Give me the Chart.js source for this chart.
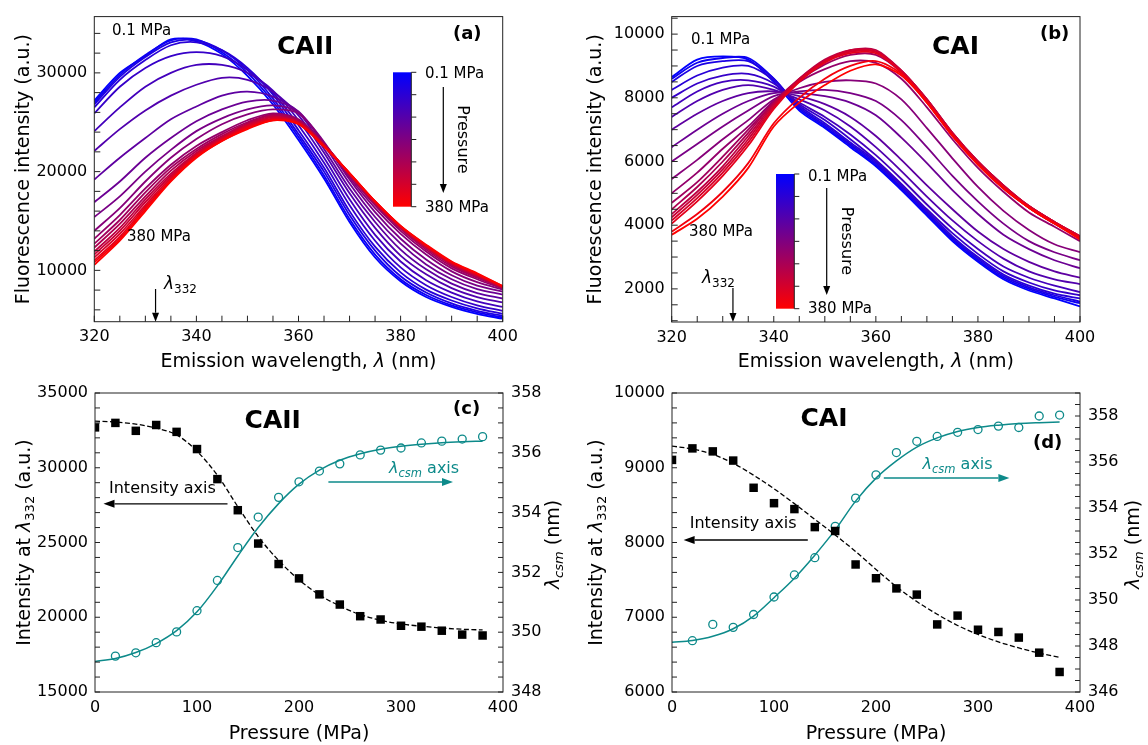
<!DOCTYPE html>
<html lang="en">
<head>
  <meta charset="UTF-8">
  <title>CAII / CAI fluorescence under pressure</title>
  <script src="https://cdn.jsdelivr.net/npm/chart.js"></script>
  <style>
    body { margin: 0; background: #fff; width: 1148px; height: 745px; overflow: hidden; position: relative; }
    canvas { position: absolute; }
  </style>
</head>
<body>
  <canvas id="cA" width="574" height="372" style="left:0;top:0"></canvas>
  <canvas id="cB" width="574" height="372" style="left:574px;top:0"></canvas>
  <canvas id="cC" width="574" height="373" style="left:0;top:372px"></canvas>
  <canvas id="cD" width="574" height="373" style="left:574px;top:372px"></canvas>

<script>
// ---- data ----
const wavelengths = [320, 325, 330, 335, 340, 345, 350, 355, 360, 365, 370, 375, 380, 385, 390, 395, 400];
const pressureLevels = [0.1, 20, 40, 60, 80, 100, 120, 140, 160, 180, 200, 220, 240, 260, 280, 300, 320, 340, 360, 380];

// CAII spectra, one row per pressure level
const caiiSpectra = [
  [27200, 30000, 31700, 33400, 33200, 31900, 29700, 26800, 23200, 19300, 14900, 11300, 8900, 7300, 6300, 5600, 5100],
  [27000, 29800, 31800, 33300, 33400, 32100, 30000, 27100, 23500, 19600, 15200, 11600, 9100, 7500, 6450, 5750, 5250],
  [26800, 29600, 31600, 33100, 33300, 32300, 30300, 27400, 23800, 20000, 15600, 12000, 9400, 7750, 6650, 5900, 5400],
  [26500, 29300, 31300, 32800, 33100, 32300, 30500, 27800, 24200, 20400, 16000, 12400, 9800, 8050, 6950, 6150, 5600],
  [25900, 28600, 30500, 31700, 32100, 31700, 30300, 28000, 24700, 20900, 16600, 13000, 10300, 8500, 7300, 6450, 5900],
  [24100, 26500, 28600, 30000, 30800, 30800, 30000, 28200, 25200, 21400, 17200, 13600, 10900, 9000, 7750, 6850, 6300],
  [22100, 24300, 26200, 27700, 28800, 29500, 29300, 28100, 25700, 21900, 17800, 14300, 11500, 9600, 8200, 7300, 6750],
  [19200, 21400, 23400, 25300, 26600, 27700, 28100, 27600, 26000, 22300, 18300, 14900, 12100, 10100, 8650, 7700, 7150],
  [16900, 19000, 21400, 23400, 25100, 26300, 27100, 27200, 26100, 22700, 18800, 15400, 12700, 10600, 9100, 8100, 7550],
  [15400, 17500, 20000, 22200, 24100, 25400, 26300, 26700, 26000, 23000, 19200, 15900, 13200, 11100, 9500, 8450, 7850],
  [14000, 16300, 19000, 21400, 23300, 24800, 25800, 26300, 25900, 22900, 19400, 16300, 13700, 11600, 9900, 8800, 8050],
  [13200, 15600, 18300, 20700, 22600, 24000, 25200, 25900, 25300, 22800, 19600, 16600, 14000, 11900, 10200, 9100, 8150],
  [12700, 15100, 17900, 20400, 22300, 23800, 25000, 25800, 25200, 22800, 19700, 16700, 14200, 12100, 10400, 9250, 8200],
  [12300, 14700, 17500, 20100, 22100, 23600, 24900, 25700, 25100, 22700, 19700, 16800, 14300, 12250, 10550, 9350, 8250],
  [11900, 14300, 17200, 19800, 21900, 23500, 24800, 25600, 25000, 22700, 19800, 16900, 14350, 12350, 10650, 9450, 8300],
  [11600, 14000, 16900, 19600, 21800, 23400, 24700, 25500, 25000, 22700, 19800, 16900, 14400, 12400, 10700, 9500, 8300],
  [11300, 13700, 16600, 19400, 21700, 23300, 24600, 25400, 24950, 22600, 19800, 16950, 14450, 12450, 10750, 9550, 8350],
  [11000, 13400, 16400, 19200, 21600, 23200, 24500, 25300, 24900, 22600, 19800, 16950, 14450, 12500, 10800, 9600, 8350],
  [10800, 13200, 16200, 19100, 21500, 23100, 24400, 25200, 24850, 22600, 19850, 17000, 14500, 12550, 10850, 9650, 8400],
  [10550, 13000, 16000, 19000, 21400, 23100, 24300, 25200, 24800, 22500, 19850, 17000, 14500, 12600, 10900, 9700, 8400]
];

// CAI spectra, one row per pressure level
const caiSpectra = [
  [8650, 9200, 9300, 9200, 8500, 7600, 7050, 6450, 5850, 5100, 4300, 3500, 2850, 2300, 1950, 1700, 1450],
  [8600, 9100, 9250, 9250, 8600, 7650, 7100, 6500, 5900, 5150, 4350, 3550, 2900, 2350, 2000, 1750, 1550],
  [8500, 9000, 9150, 9150, 8600, 7700, 7150, 6550, 5950, 5200, 4400, 3600, 2950, 2400, 2050, 1800, 1600],
  [8250, 8700, 8950, 9000, 8550, 7750, 7200, 6600, 6000, 5250, 4450, 3650, 3000, 2450, 2100, 1850, 1700],
  [8000, 8450, 8700, 8750, 8450, 7800, 7300, 6700, 6050, 5300, 4500, 3750, 3100, 2550, 2200, 1950, 1800],
  [7700, 8200, 8500, 8550, 8350, 7850, 7400, 6850, 6200, 5450, 4650, 3900, 3250, 2700, 2350, 2100, 1900],
  [7400, 7900, 8250, 8400, 8250, 7950, 7600, 7100, 6450, 5700, 4900, 4150, 3500, 2950, 2550, 2300, 2150],
  [7000, 7500, 7900, 8150, 8200, 8050, 7800, 7400, 6800, 6050, 5250, 4500, 3800, 3250, 2850, 2550, 2350],
  [6450, 7000, 7500, 7900, 8150, 8150, 8050, 7850, 7450, 6750, 5950, 5100, 4350, 3700, 3250, 2900, 2650],
  [6000, 6550, 7100, 7600, 8050, 8200, 8250, 8150, 7900, 7300, 6450, 5550, 4750, 4050, 3500, 3150, 2900],
  [5450, 6050, 6700, 7300, 7950, 8300, 8500, 8550, 8450, 7950, 7050, 6100, 5200, 4450, 3850, 3400, 3150],
  [5000, 5650, 6400, 7100, 7900, 8500, 8900, 9150, 9100, 8600, 7700, 6700, 5800, 5050, 4400, 3950, 3500],
  [4700, 5350, 6150, 7000, 7850, 8550, 9050, 9350, 9350, 8800, 7900, 6850, 5950, 5200, 4550, 4050, 3600],
  [4500, 5200, 6000, 6900, 7850, 8600, 9150, 9450, 9450, 8850, 7950, 6900, 6000, 5250, 4600, 4100, 3650],
  [4350, 5050, 5850, 6800, 7800, 8600, 9200, 9500, 9500, 8850, 7950, 6900, 6000, 5250, 4600, 4100, 3650],
  [4250, 4950, 5750, 6700, 7750, 8550, 9150, 9500, 9450, 8850, 7950, 6900, 6000, 5250, 4600, 4100, 3650],
  [4150, 4850, 5650, 6600, 7700, 8550, 9150, 9450, 9450, 8800, 7900, 6850, 5950, 5200, 4600, 4100, 3650],
  [4050, 4750, 5550, 6500, 7650, 8500, 9100, 9400, 9400, 8800, 7900, 6850, 5950, 5200, 4550, 4050, 3600],
  [3800, 4350, 5050, 5950, 7200, 8000, 8600, 9000, 9150, 8750, 7850, 6800, 5900, 5150, 4550, 4050, 3600],
  [3700, 4200, 4900, 5800, 7100, 7850, 8400, 8850, 9050, 8700, 7850, 6800, 5900, 5150, 4550, 4050, 3550]
];

const pressure = [0, 20, 40, 60, 80, 100, 120, 140, 160, 180, 200, 220, 240, 260, 280, 300, 320, 340, 360, 380];
const csmPressure = [20, 40, 60, 80, 100, 120, 140, 160, 180, 200, 220, 240, 260, 280, 300, 320, 340, 360, 380];

const caiiI332 = [32700, 33000, 32470, 32860, 32400, 31250, 29240, 27160, 24930, 23560, 22600, 21530, 20850, 20070, 19850, 19430, 19370, 19100, 18840, 18780];
const caiiI332Fit = [33120, 33060, 32920, 32650, 32200, 31100, 29500, 27400, 25400, 23800, 22500, 21500, 20750, 20180, 19800, 19550, 19400, 19280, 19200, 19150];
const caiiCsm = [349.20, 349.31, 349.65, 350.01, 350.72, 351.73, 352.83, 353.85, 354.51, 355.03, 355.39, 355.63, 355.93, 356.09, 356.16, 356.33, 356.39, 356.46, 356.54];
const caiiCsmFit = [349.02, 349.12, 349.32, 349.62, 350.05, 350.68, 351.55, 352.55, 353.50, 354.30, 354.95, 355.42, 355.75, 355.97, 356.12, 356.22, 356.29, 356.34, 356.37, 356.39];

const caiI332 = [9105, 9259, 9219, 9096, 8732, 8526, 8447, 8206, 8154, 7706, 7522, 7386, 7303, 6904, 7022, 6833, 6803, 6728, 6526, 6268];
const caiI332Fit = [9290, 9250, 9180, 9060, 8900, 8720, 8520, 8310, 8100, 7880, 7640, 7410, 7210, 7040, 6890, 6770, 6670, 6590, 6520, 6465];
const caiCsm = [348.23, 348.94, 348.81, 349.37, 350.13, 351.09, 351.84, 353.20, 354.43, 355.44, 356.41, 356.90, 357.11, 357.29, 357.41, 357.56, 357.50, 358.00, 358.04];
const caiCsmFit = [348.16, 348.24, 348.42, 348.75, 349.30, 350.10, 350.95, 351.95, 353.05, 354.30, 355.30, 356.05, 356.65, 357.05, 357.33, 357.50, 357.60, 357.67, 357.71, 357.74];

// tick labels
const wlTicks = [320, 340, 360, 380, 400];
const caiiSpecTicks = [10000, 20000, 30000];
const caiSpecTicks = [2000, 4000, 6000, 8000, 10000];
const pTicks = [0, 100, 200, 300, 400];
const caiiITicks = [15000, 20000, 25000, 30000, 35000];
const caiITicks = [6000, 7000, 8000, 9000, 10000];
const caiiCsmTicks = [348, 350, 352, 354, 356, 358];
const caiCsmTicks = [346, 348, 350, 352, 354, 356, 358];

// ---- helpers ----
const FAM = '"DejaVu Sans"';
Chart.defaults.font.family = 'DejaVu Sans';
const TEAL = '#0d8a8a';
const f = (size, style = '') => (style + ' ' + size + 'px ' + FAM).trim();

const pairs = (xs, ys) => ys.map((y, i) => ({ x: xs[i], y }));
const pColor = t => 'rgb(' + Math.round(255 * t) + ',0,' + Math.round(255 * (1 - t)) + ')';

function axis(pos, min, max, ticks, size, pad) {
  return {
    type: 'linear', position: pos, min, max,
    grid: { display: false, drawTicks: false },
    border: { display: false },
    ticks: { color: '#000', font: { size: 16 }, padding: pad, maxRotation: 0, autoSkip: false, callback: v => String(v) },
    afterBuildTicks: s => { s.ticks = ticks.map(v => ({ value: v })); },
    afterFit: s => { if (s.isHorizontal()) s.height = size; else s.width = size; }
  };
}

function baseOptions(pad, scales) {
  return {
    responsive: false, animation: false, events: [],
    layout: { padding: pad },
    plugins: { legend: { display: false }, tooltip: { enabled: false } },
    scales
  };
}

// text made of runs: [text, font, dy]
function txt(ctx, x, y, runs, o = {}) {
  ctx.save();
  ctx.translate(x, y);
  if (o.rot) ctx.rotate(o.rot);
  ctx.textBaseline = o.baseline || 'alphabetic';
  let w = 0;
  for (const r of runs) { ctx.font = r[1]; w += ctx.measureText(r[0]).width; }
  let cx = o.align === 'center' ? -w / 2 : 0;
  ctx.fillStyle = o.color || '#000';
  for (const r of runs) {
    ctx.font = r[1];
    ctx.fillText(r[0], cx, r[2] || 0);
    cx += ctx.measureText(r[0]).width;
  }
  ctx.restore();
}

function arrow(ctx, x1, y1, x2, y2, color, head = 9, hw = 3.5, lw = 1.3) {
  const a = Math.atan2(y2 - y1, x2 - x1), c = Math.cos(a), s = Math.sin(a);
  const bx = x2 - head * c, by = y2 - head * s;
  ctx.strokeStyle = color; ctx.fillStyle = color; ctx.lineWidth = lw;
  ctx.beginPath(); ctx.moveTo(x1, y1); ctx.lineTo(bx, by); ctx.stroke();
  ctx.beginPath(); ctx.moveTo(x2, y2);
  ctx.lineTo(bx + hw * s, by - hw * c);
  ctx.lineTo(bx - hw * s, by + hw * c);
  ctx.closePath(); ctx.fill();
}

function frame(chart) {
  const { ctx, chartArea: a } = chart;
  ctx.strokeStyle = '#222'; ctx.lineWidth = 1;
  ctx.strokeRect(a.left, a.top, a.right - a.left, a.bottom - a.top);
}

// inward tick marks
function inTicks(chart, id, from, to, step, len = 6) {
  const s = chart.scales[id], a = chart.chartArea, ctx = chart.ctx;
  ctx.beginPath();
  for (let k = 0; from + k * step <= to + 1e-9; k++) {
    const p = s.getPixelForValue(from + k * step);
    if (s.isHorizontal()) { ctx.moveTo(p, a.bottom); ctx.lineTo(p, a.bottom - len); }
    else if (s.position === 'left') { ctx.moveTo(a.left, p); ctx.lineTo(a.left + len, p); }
    else { ctx.moveTo(a.right, p); ctx.lineTo(a.right - len, p); }
  }
  ctx.strokeStyle = '#222'; ctx.lineWidth = 1; ctx.stroke();
}

function colorbar(ctx, x, y, w, h) {
  const g = ctx.createLinearGradient(0, y, 0, y + h);
  g.addColorStop(0, 'rgb(0,0,255)'); g.addColorStop(1, 'rgb(255,0,0)');
  ctx.fillStyle = g; ctx.fillRect(x, y, w, h);
  ctx.strokeStyle = '#222'; ctx.lineWidth = 1;
  ctx.beginPath(); ctx.moveTo(x + w, y); ctx.lineTo(x + w, y + h);
  for (let k = 0; k <= 6; k++) { const yy = y + h * k / 6; ctx.moveTo(x + w, yy); ctx.lineTo(x + w + 5, yy); }
  ctx.stroke();
}

const decor = draw => ({ id: 'decor', afterDraw(chart) { const ctx = chart.ctx; ctx.save(); draw(chart, ctx); ctx.restore(); } });

const lam332 = (ctx, x, y) => txt(ctx, x, y, [['λ', f(17, 'italic')], ['332', f(12), 4]]);
const wlTitle = [['Emission wavelength, ', f(19)], ['λ', f(19, 'italic')], [' (nm)', f(19)]];
const fluoTitle = [['Fluorescence intensity (a.u.)', f(19)]];
const intTitle = [['Intensity at ', f(19)], ['λ', f(19, 'italic')], ['332', f(13), 4], [' (a.u.)', f(19)]];
const csmTitle = [['λ', f(19, 'italic')], ['csm', f(13, 'italic'), 4], [' (nm)', f(19)]];
const csmAxis = [['λ', f(16, 'italic')], ['csm', f(11.5, 'italic'), 3.5], [' axis', f(16)]];

function spectra(id, rows, yMin, yMax, yTicks, g, minor, extra) {
  return new Chart(document.getElementById(id), {
    type: 'line',
    data: {
      datasets: rows.map((row, i) => ({
        data: pairs(wavelengths, row),
        borderColor: pColor(i / (rows.length - 1)),
        borderWidth: 1.8, pointRadius: 0, tension: 0.3, order: rows.length - i
      }))
    },
    options: baseOptions({ top: g.top, right: g.right, left: 0, bottom: 0 }, {
      x: axis('bottom', 320, 400, wlTicks, g.xh, 6),
      y: axis('left', yMin, yMax, yTicks, g.yw, 7)
    }),
    plugins: [decor((c, ctx) => {
      frame(c);
      inTicks(c, 'x', 320, 400, 5);
      inTicks(c, 'y', minor[0], minor[1], minor[2]);
      const a = c.chartArea;
      txt(ctx, (a.left + a.right) / 2, 367, wlTitle, { align: 'center' });
      txt(ctx, g.titleX, (a.top + a.bottom) / 2, fluoTitle, { align: 'center', rot: -Math.PI / 2 });
      extra(c, ctx, a);
    })]
  });
}

function pressureChart(id, iVals, iFit, cVals, cFit, iRange, cRange, iTicks, cTicks, g, minorI, extra) {
  return new Chart(document.getElementById(id), {
    type: 'line',
    data: {
      datasets: [
        { data: pairs(pressure, iVals), yAxisID: 'y', showLine: false, pointStyle: 'rect', pointRadius: 6,
          pointBackgroundColor: '#000', pointBorderWidth: 0, order: 1 },
        { data: pairs(csmPressure, cVals), yAxisID: 'y2', showLine: false, pointStyle: 'circle', pointRadius: 4,
          pointBorderColor: TEAL, pointBackgroundColor: 'rgba(0,0,0,0)', pointBorderWidth: 1.3, order: 2 },
        { data: pairs(pressure, iFit), yAxisID: 'y', borderColor: '#000', borderWidth: 1.3, borderDash: [5, 2.5],
          pointRadius: 0, cubicInterpolationMode: 'monotone', order: 3 },
        { data: pairs(pressure, cFit), yAxisID: 'y2', borderColor: TEAL, borderWidth: 1.5,
          pointRadius: 0, cubicInterpolationMode: 'monotone', order: 4 }
      ]
    },
    options: baseOptions({ top: 21, right: 0, left: 0, bottom: 0 }, {
      x: axis('bottom', 0, 400, pTicks, 53, 6),
      y: axis('left', iRange[0], iRange[1], iTicks, g.yw, 7),
      y2: axis('right', cRange[0], cRange[1], cTicks, g.y2w, 8)
    }),
    plugins: [decor((c, ctx) => {
      frame(c);
      inTicks(c, 'y', minorI[0], minorI[1], minorI[2], 5);
      inTicks(c, 'y2', cRange[0], cRange[1], 0.5, 5);
      const a = c.chartArea, cy = (a.top + a.bottom) / 2;
      txt(ctx, (a.left + a.right) / 2, 367, [['Pressure (MPa)', f(19)]], { align: 'center' });
      txt(ctx, g.titleX, cy, intTitle, { align: 'center', rot: -Math.PI / 2 });
      txt(ctx, a.right + g.rTitle, cy + 2, csmTitle, { align: 'center', rot: -Math.PI / 2 });
      extra(c, ctx, a);
    })]
  });
}

// (a) CAII spectra
spectra('cA', caiiSpectra, 4800, 35700, caiiSpecTicks,
  { top: 15.7, right: 71.3, xh: 50.3, yw: 94.3, titleX: 29 }, [6000, 34000, 2000],
  (c, ctx, a) => {
    txt(ctx, 112, 35, [['0.1 MPa', f(15)]]);
    txt(ctx, 127, 241, [['380 MPa', f(15)]]);
    txt(ctx, 277, 54, [['CAII', f(25, 'bold')]]);
    txt(ctx, 453, 39, [['(a)', f(18, 'bold')]]);
    const x332 = c.scales.x.getPixelForValue(332);
    arrow(ctx, x332, 289, x332, a.bottom, '#000', 9, 3.5, 1.2);
    lam332(ctx, 164, 289);
    colorbar(ctx, 393, 72.3, 18.3, 134.4);
    txt(ctx, 425, 78, [['0.1 MPa', f(15)]]);
    txt(ctx, 425, 212, [['380 MPa', f(15)]]);
    arrow(ctx, 443.3, 87, 443.3, 193, '#000', 9, 3.5, 1.2);
    txt(ctx, 462, 139.5, [['Pressure', f(16)]], { align: 'center', rot: Math.PI / 2, baseline: 'middle' });
  });

// (b) CAI spectra
spectra('cB', caiSpectra, 960, 10550, caiSpecTicks,
  { top: 15.7, right: 68, xh: 50, yw: 97.7, titleX: 27 }, [1000, 10500, 500],
  (c, ctx, a) => {
    txt(ctx, 117, 44, [['0.1 MPa', f(15)]]);
    txt(ctx, 115, 236, [['380 MPa', f(15)]]);
    txt(ctx, 358, 54, [['CAI', f(25, 'bold')]]);
    txt(ctx, 466, 39, [['(b)', f(18, 'bold')]]);
    const x332 = c.scales.x.getPixelForValue(332);
    arrow(ctx, x332, 288, x332, a.bottom, '#000', 9, 3.5, 1.2);
    lam332(ctx, 128, 283);
    colorbar(ctx, 202, 174, 18.3, 134.7);
    txt(ctx, 234, 181, [['0.1 MPa', f(15)]]);
    txt(ctx, 234, 313, [['380 MPa', f(15)]]);
    arrow(ctx, 252.7, 188, 252.7, 295, '#000', 9, 3.5, 1.2);
    txt(ctx, 272.5, 241, [['Pressure', f(16)]], { align: 'center', rot: Math.PI / 2, baseline: 'middle' });
  });

// (c) CAII vs pressure
pressureChart('cC', caiiI332, caiiI332Fit, caiiCsm, caiiCsmFit, [15000, 35000], [348, 358],
  caiiITicks, caiiCsmTicks, { yw: 95, y2w: 71, titleX: 29.5, rTitle: 56 }, [15000, 35000, 1000],
  (c, ctx) => {
    txt(ctx, 244.6, 56, [['CAII', f(25, 'bold')]]);
    txt(ctx, 453, 42, [['(c)', f(18, 'bold')]]);
    txt(ctx, 109, 121, [['Intensity axis', f(16)]]);
    arrow(ctx, 227.5, 131.8, 103.5, 131.8, '#000', 11, 4, 1.3);
    txt(ctx, 389, 101, csmAxis, { color: TEAL });
    arrow(ctx, 328.4, 110, 453, 110, TEAL, 11, 4, 1.3);
  });

// (d) CAI vs pressure
pressureChart('cD', caiI332, caiI332Fit, caiCsm, caiCsmFit, [6000, 10000], [346, 359],
  caiITicks, caiCsmTicks, { yw: 98, y2w: 68, titleX: 28, rTitle: 59 }, [6000, 10000, 200],
  (c, ctx) => {
    txt(ctx, 226.5, 54, [['CAI', f(25, 'bold')]]);
    txt(ctx, 459, 76, [['(d)', f(18, 'bold')]]);
    txt(ctx, 115.7, 156, [['Intensity axis', f(16)]]);
    arrow(ctx, 233.8, 168, 109.6, 168, '#000', 11, 4, 1.3);
    txt(ctx, 348.5, 97, csmAxis, { color: TEAL });
    arrow(ctx, 309.8, 106, 435.4, 106, TEAL, 11, 4, 1.3);
  });
</script>
</body>
</html>
